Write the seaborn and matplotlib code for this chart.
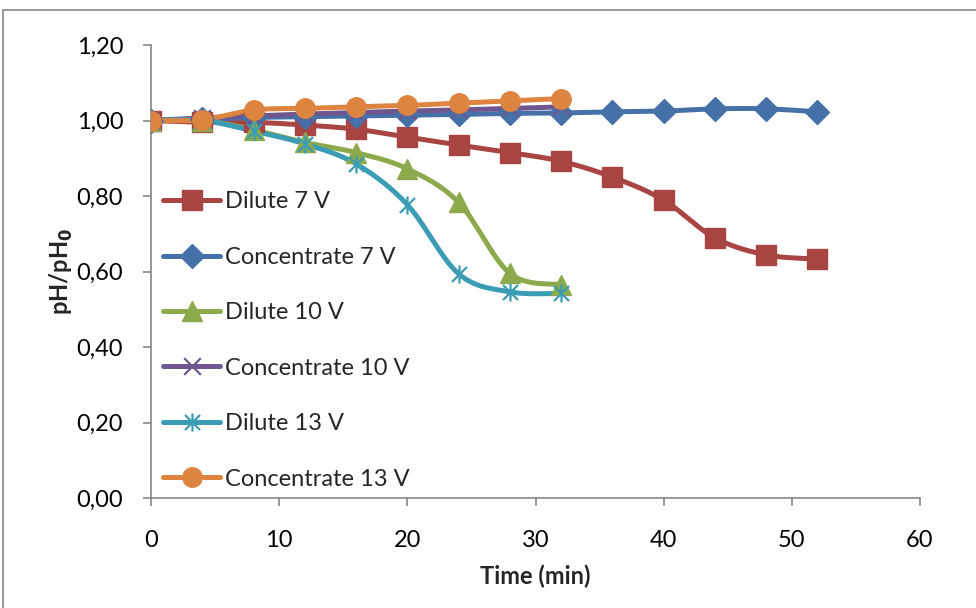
import numpy as np
import matplotlib
matplotlib.use("Agg")
import matplotlib.pyplot as plt
import seaborn as sns
from matplotlib.path import Path
from matplotlib.lines import Line2D
from matplotlib.patches import Rectangle
from matplotlib.ticker import FuncFormatter

# ---- data ----
time_long = [0, 4, 8, 12, 16, 20, 24, 28, 32, 36, 40, 44, 48, 52]
time_short = [0, 4, 8, 12, 16, 20, 24, 28, 32]

dilute_7 = [1.00, 0.995, 0.995, 0.988, 0.977, 0.956, 0.935, 0.915, 0.892, 0.850, 0.789, 0.689, 0.644, 0.633]
conc_7 = [1.00, 1.003, 1.008, 1.010, 1.012, 1.014, 1.016, 1.019, 1.020, 1.023, 1.025, 1.031, 1.031, 1.023]
dilute_10 = [1.00, 1.00, 0.975, 0.942, 0.915, 0.872, 0.783, 0.595, 0.565]
conc_10 = [1.00, 1.007, 1.012, 1.017, 1.021, 1.025, 1.028, 1.032, 1.036]
dilute_13 = [1.00, 1.00, 0.972, 0.938, 0.885, 0.777, 0.594, 0.546, 0.542]
conc_13 = [1.00, 1.002, 1.028, 1.032, 1.036, 1.040, 1.046, 1.052, 1.058]

labels = ["Dilute 7 V", "Concentrate 7 V", "Dilute 10 V",
          "Concentrate 10 V", "Dilute 13 V", "Concentrate 13 V"]
x_ticks = [0, 10, 20, 30, 40, 50, 60]
y_ticks = [0.0, 0.2, 0.4, 0.6, 0.8, 1.0, 1.2]

# ---- style ----
sns.set_style("white")
plt.rcParams['font.family'] = ['Lato', 'DejaVu Sans']
FS = 17

colors = ["#A84441", "#4571A8", "#8CAA4B", "#70568E", "#3B9CB5", "#DD8440"]

star = Path([(-1, -1), (1, 1), (-1, 1), (1, -1), (0, -1.2), (0, 1.2)],
            [Path.MOVETO, Path.LINETO, Path.MOVETO, Path.LINETO, Path.MOVETO, Path.LINETO])
xmark = Path([(-1, -1), (1, 1), (-1, 1), (1, -1)],
             [Path.MOVETO, Path.LINETO, Path.MOVETO, Path.LINETO])
markers = ["s", "D", "^", xmark, star, "o"]
msizes = [14, 12, 14, 12, 13, 14]
filled = [True, True, True, False, False, True]


def smooth(x, y, n=30):
    x = np.asarray(x, float)
    y = np.asarray(y, float)
    P = np.column_stack([x, y])
    out = [P[0]]
    for i in range(len(P) - 1):
        p0 = P[i - 1] if i > 0 else P[i]
        p1 = P[i]
        p2 = P[i + 1]
        p3 = P[i + 2] if i + 2 < len(P) else P[i + 1]
        c1 = p1 + (p2 - p0) / 6.0
        c2 = p2 - (p3 - p1) / 6.0
        t = np.linspace(0, 1, n)[1:, None]
        seg = ((1 - t) ** 3) * p1 + 3 * ((1 - t) ** 2) * t * c1 + 3 * (1 - t) * t ** 2 * c2 + t ** 3 * p2
        out.extend(seg)
    out = np.array(out)
    return out[:, 0], out[:, 1]


fig = plt.figure(figsize=(9.76, 6.08), dpi=100)
ax = fig.add_axes([151 / 976, 110 / 608, 769 / 976, 453 / 608])

series = [(time_long, dilute_7), (time_long, conc_7), (time_short, dilute_10),
          (time_short, conc_10), (time_short, dilute_13), (time_short, conc_13)]

handles = []
for i, (xs, ys) in enumerate(series):
    sx, sy = smooth(xs, ys)
    sns.lineplot(x=sx, y=sy, sort=False, estimator=None, color=colors[i],
                 linewidth=3.6, ax=ax, zorder=2 + i * 0.1, solid_capstyle='round')
    kw = dict(marker=markers[i], markersize=msizes[i], color=colors[i],
              markeredgecolor=colors[i])
    if not filled[i]:
        kw.update(markeredgewidth=1.6, markerfacecolor='none')
    ax.plot(xs, ys, linestyle='none', zorder=3 + i * 0.1, **kw)
    handles.append(Line2D([], [], linewidth=3.6, **kw))

ax.set_xlim(0, 60)
ax.set_ylim(0, 1.2)
ax.set_xticks(x_ticks)
ax.set_yticks(y_ticks)
ax.yaxis.set_major_formatter(FuncFormatter(lambda v, p: f"{v:.2f}".replace('.', ',')))

for s in ["top", "right"]:
    ax.spines[s].set_visible(False)
for s in ["left", "bottom"]:
    ax.spines[s].set_color("#868686")
    ax.spines[s].set_linewidth(1.2)
ax.tick_params(axis='both', which='major', direction='out', length=6, width=1.2,
               color="#868686", labelsize=FS, labelcolor='black',
               bottom=True, left=True)
ax.tick_params(axis='y', pad=14)
ax.tick_params(axis='x', pad=17)

ax.set_xlabel("Time (min)", fontsize=FS, fontweight='bold', labelpad=10)
ax.set_ylabel("pH/pH$_\\mathbf{0}$", fontsize=FS, fontweight='bold', labelpad=1)

leg = ax.legend(handles, labels, loc='upper left', bbox_to_anchor=(0.016, 0.677),
                frameon=False, fontsize=FS, handlelength=2.4, handletextpad=0.22,
                labelspacing=1.46, borderpad=0, borderaxespad=0)

# outer chart border
fig.patches.append(Rectangle((3 / 976, -0.02), 1.0, (598 / 608) + 0.02, transform=fig.transFigure,
                             fill=False, edgecolor="#868686", linewidth=1.2))

fig.savefig("out.png", dpi=100)
